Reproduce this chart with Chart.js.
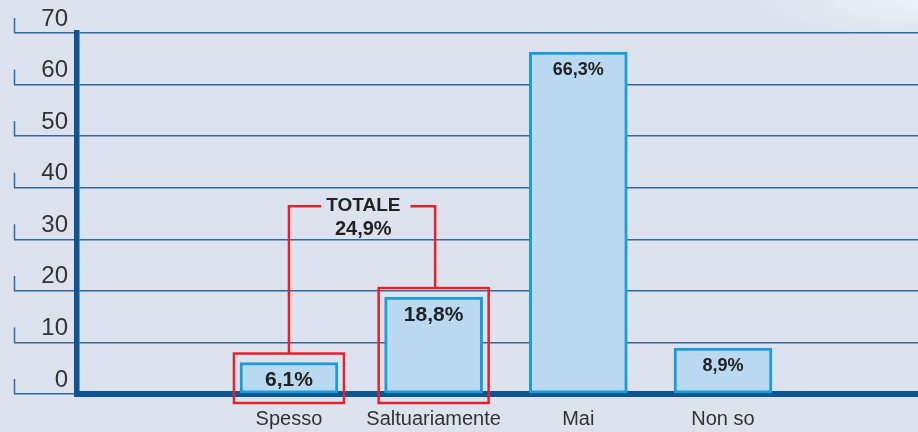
<!DOCTYPE html>
<html>
<head>
<meta charset="utf-8">
<script src="https://cdn.jsdelivr.net/npm/chart.js"></script>
<style>
	html, body { margin: 0; padding: 0; }
	body {
		width: 918px;
		height: 432px;
		overflow: hidden;
		background: radial-gradient(ellipse 160px 40px at 918px 0px, #edf1f7 0%, #dce3ef 100%);
	}
</style>
</head>
<body>
<canvas id="myChart" width="918" height="432"></canvas>
<script>
const categories = ['Spesso', 'Saltuariamente', 'Mai', 'Non so'];
const percentages = [6.1, 18.8, 66.3, 8.9];
const yTicks = [0, 10, 20, 30, 40, 50, 60, 70];
const totalIndexes = [0, 1];
const totalTitle = 'TOTALE';

const ctx = document.getElementById('myChart');
const font = '"Liberation Sans", Arial, Helvetica, sans-serif';
const gridColor = '#34679a';
const axisColor = '#0d5590';
const red = '#e8202a';

const fmt = v => v.toFixed(1).replace('.', ',') + '%';

const extras = {
	id: 'extras',
	afterDatasetsDraw(chart) {
		const c = chart.ctx;
		const y = chart.scales.y;
		const meta = chart.getDatasetMeta(0);
		c.save();

		// small vertical ticks at the far left
		c.strokeStyle = gridColor;
		c.lineWidth = 1.5;
		yTicks.forEach(t => {
			const py = y.getPixelForValue(t);
			c.beginPath();
			c.moveTo(14.5, py);
			c.lineTo(14.5, py - 15);
			c.stroke();
		});

		// values inside the bars
		c.fillStyle = '#222';
		c.textAlign = 'center';
		c.textBaseline = 'middle';
		meta.data.forEach((bar, i) => {
			const big = totalIndexes.includes(i);
			c.font = 'bold ' + (big ? 21 : 18) + 'px ' + font;
			c.fillText(fmt(percentages[i]), bar.x, bar.y + 18);
		});

		// red boxes
		c.strokeStyle = red;
		c.lineWidth = 2.5;
		totalIndexes.forEach(i => {
			const bar = meta.data[i];
			const half = bar.width / 2 + 6;
			c.strokeRect(bar.x - half, bar.y - 9, half * 2, y.bottom + 9 - (bar.y - 9));
		});

		// bracket with total
		const a = meta.data[totalIndexes[0]];
		const b = meta.data[totalIndexes[totalIndexes.length - 1]];
		const by = y.getPixelForValue(36.4);
		const cx = (a.x + b.x) / 2 + 2;
		c.font = 'bold 19px ' + font;
		const tw = c.measureText(totalTitle).width;
		c.beginPath();
		c.moveTo(a.x, a.y - 9);
		c.lineTo(a.x, by);
		c.lineTo(cx - tw / 2 - 5, by);
		c.moveTo(cx + tw / 2 + 10, by);
		c.lineTo(b.x + 1.5, by);
		c.lineTo(b.x + 1.5, b.y - 9);
		c.stroke();

		const total = totalIndexes.reduce((s, i) => s + percentages[i], 0);
		c.fillStyle = '#222';
		c.fillText(totalTitle, cx, by - 1);
		c.font = 'bold 20px ' + font;
		c.fillText(fmt(total), cx, by + 23);
		c.restore();
	}
};

new Chart(ctx, {
	type: 'bar',
	data: {
		datasets: [{
			data: percentages.map((v, i) => ({ x: i, y: v })),
			backgroundColor: '#b9d9f1',
			borderColor: '#1c9bd9',
			borderWidth: 3,
			borderSkipped: false,
			barThickness: 98,
		}]
	},
	plugins: [extras],
	options: {
		responsive: false,
		animation: false,
		devicePixelRatio: 1,
		layout: {
			padding: { top: 33, left: 0, right: 0, bottom: 0 }
		},
		plugins: {
			legend: false,
			tooltip: { enabled: false }
		},
		scales: {
			x: {
				type: 'linear',
				offset: false,
				bounds: 'ticks',
				min: -1.465,
				max: 4.348,
				afterBuildTicks: scale => {
					scale.ticks = categories.map((c, i) => ({ value: i }));
				},
				afterFit: scale => { scale.height = 38; },
				grid: { display: false, drawTicks: false },
				border: { display: true, color: axisColor, width: 6 },
				ticks: {
					autoSkip: false,
					maxRotation: 0,
					padding: 13,
					color: '#333',
					font: { family: font, size: 20 },
					callback: v => categories[v]
				}
			},
			y: {
				min: 0,
				max: 70,
				afterBuildTicks: scale => {
					scale.ticks = yTicks.map(v => ({ value: v }));
				},
				afterFit: scale => { scale.width = 77; },
				grid: {
					color: gridColor,
					lineWidth: 1.5,
					drawTicks: true,
					tickLength: 63,
					tickColor: gridColor
				},
				border: { display: true, color: axisColor, width: 5.5 },
				ticks: {
					padding: -54,
					labelOffset: -14,
					color: '#333',
					font: { family: font, size: 24 }
				}
			}
		}
	}
});
</script>
</body>
</html>
